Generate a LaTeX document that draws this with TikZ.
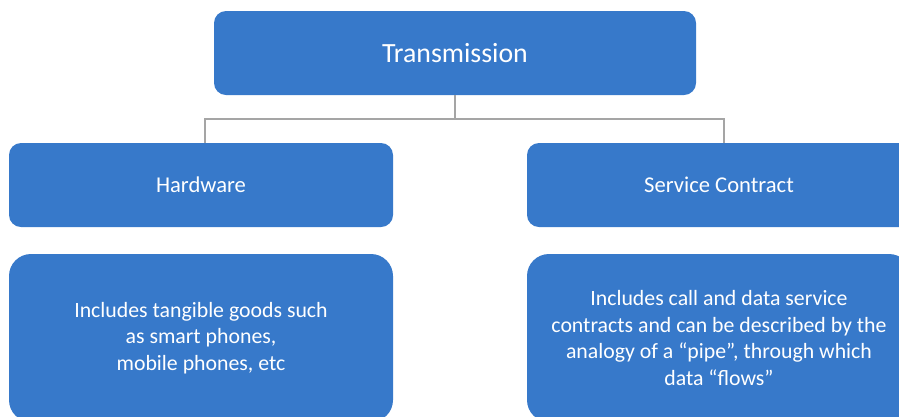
\documentclass[tikz,border=0pt]{standalone}
\usepackage{fontspec}
\setmainfont{Carlito}
\definecolor{boxblue}{RGB}{55,121,202}
\definecolor{linegray}{RGB}{165,165,165}
\begin{document}
\begin{tikzpicture}[x=1pt,y=-1pt,
  bluebox/.style={draw=none,fill=boxblue,rounded corners=12pt,text=white,align=center,inner sep=0pt},
  bigbox/.style={bluebox,rounded corners=22pt,minimum width=384pt,minimum height=168pt,font=\fontsize{21.8}{26.5}\selectfont},
  conn/.style={draw=linegray,line width=1.3pt}]
\useasboundingbox (0,0) rectangle (899,416);
\clip (0,0) rectangle (899,416);
\node[bluebox,minimum width=482pt,minimum height=84pt,font=\fontsize{27.8}{32}\selectfont] (top) at (455,53) {Transmission};
\node[bluebox,minimum width=384pt,minimum height=84pt,font=\fontsize{22.6}{26}\selectfont] (hw) at (201,185) {Hardware};
\node[bluebox,minimum width=384pt,minimum height=84pt,font=\fontsize{22.6}{26}\selectfont] (sc) at (719,185) {Service Contract};
\node[bigbox] (hwd) at (201,338) {Includes tangible goods such\\as smart phones,\\mobile phones, etc};
\node[bigbox] (scd) at (719,338) {Includes call and data service\\contracts and can be described by the\\analogy of a “pipe”, through which\\data “flows”};
\coordinate (split) at (455,119);
\draw[conn] (top.south) -- (split) -| ([xshift=4pt]hw.north);
\draw[conn] (split) -| ([xshift=5pt]sc.north);
\end{tikzpicture}
\end{document}
